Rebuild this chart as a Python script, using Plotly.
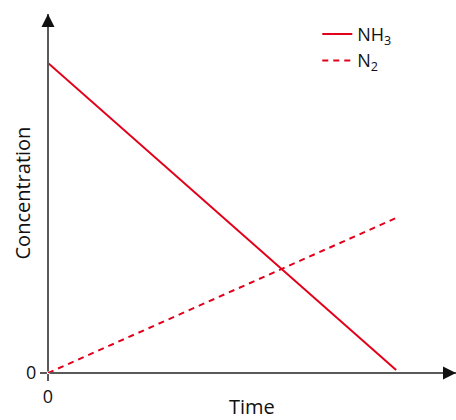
import plotly.graph_objects as go

time = [0, 1]
nh3 = [1.0, 0.01]
n2 = [0.0, 0.5]
tick_vals = [0]
tick_text = ["0"]

red = "#e2001a"
axis_col = "#5a5a5a"
font_family = "Open Sans, Noto Sans, sans-serif"
title_font = dict(family=font_family, size=20, color="#111111")

fig = go.Figure()
fig.add_trace(go.Scatter(x=time, y=nh3, mode="lines", name="NH<sub>3</sub>",
                         line=dict(color=red, width=2)))
fig.add_trace(go.Scatter(x=time, y=n2, mode="lines", name="N<sub>2</sub>",
                         line=dict(color=red, width=2, dash="6px,5px")))

xmax = 1.172
ymax = 1.158

fig.update_layout(
    width=456, height=420,
    margin=dict(l=48, r=0, t=14, b=47),
    plot_bgcolor="white", paper_bgcolor="white",
    font=dict(family=font_family, size=18, color="#111111"),
    showlegend=True,
    legend=dict(x=0.66, y=0.995, xanchor="left", yanchor="top",
                bgcolor="rgba(0,0,0,0)", font=dict(size=18),
                tracegroupgap=0),
    xaxis=dict(range=[0, xmax], showgrid=False, zeroline=False,
               showline=False, tickvals=tick_vals, ticktext=tick_text,
               ticks="outside", ticklen=7, tickcolor=axis_col, tickwidth=2,
               tickfont=dict(size=18), automargin=False),
    yaxis=dict(range=[0, ymax], showgrid=False, zeroline=False,
               showline=False, tickvals=tick_vals, ticktext=tick_text,
               ticks="outside", ticklen=7, tickcolor=axis_col, tickwidth=2,
               tickfont=dict(size=18), automargin=False),
)

# axis titles
fig.add_annotation(text="Concentration", textangle=-90, xref="paper", yref="paper",
                   x=(22 - 48) / 408, y=0.5, xanchor="center", yanchor="middle",
                   showarrow=False, font=title_font)
fig.add_annotation(text="Time", xref="paper", yref="paper",
                   x=0.5, y=-(406 - 373) / 359, xanchor="center", yanchor="middle",
                   showarrow=False, font=title_font)

# axis lines with arrowheads
for (x, y, ax, ay) in [(xmax, 0, -12, 0), (0, ymax, 0, 12)]:
    fig.add_annotation(x=x, y=y, ax=0, ay=0, xref="x", yref="y", axref="x", ayref="y",
                       showarrow=True, arrowhead=0, arrowwidth=2,
                       arrowcolor=axis_col, text="")
    fig.add_annotation(x=x, y=y, ax=ax, ay=ay, xref="x", yref="y",
                       showarrow=True, arrowhead=2, arrowsize=1.3, arrowwidth=2,
                       arrowcolor="#111111", text="")

fig.write_html("out.html", config={"displayModeBar": False},
               post_script="document.body.style.margin='0';")
